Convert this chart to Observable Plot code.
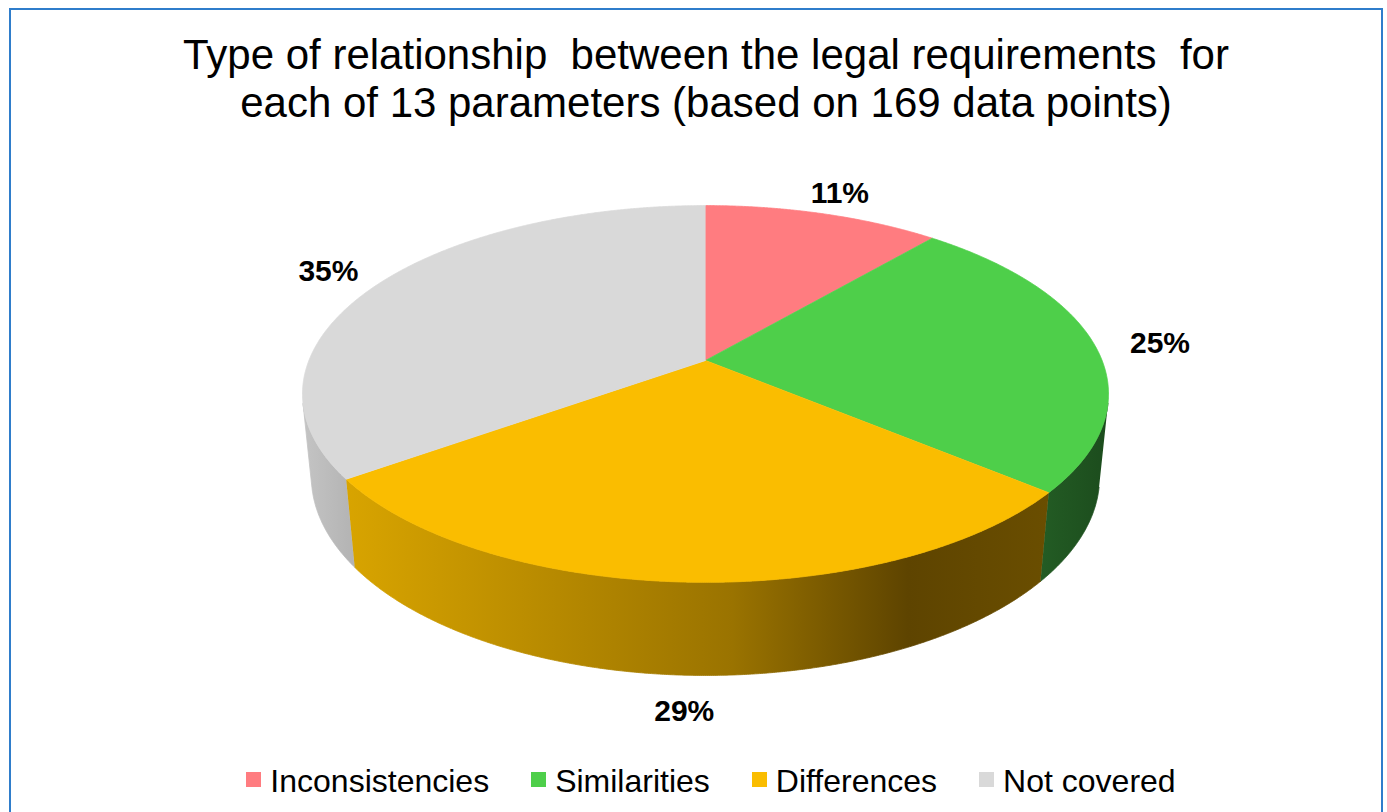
<!DOCTYPE html>
<html>
<head>
<meta charset="utf-8">
<script src="https://cdn.jsdelivr.net/npm/d3@7"></script>
<script src="https://cdn.jsdelivr.net/npm/@observablehq/plot@0.6"></script>
<style>
  html, body { margin: 0; padding: 0; background: #fff; overflow: hidden; }
  body { width: 1387px; height: 812px; position: relative; font-family: "Liberation Sans", Arial, sans-serif; }
  #frame { position: absolute; left: 9px; top: 8px; width: 1374px; height: 830px; border: 2px solid #2F7DCB; box-sizing: border-box; pointer-events: none; }
  #title { position: absolute; left: 0; top: 31px; width: 1412px; text-align: center; font-size: 42px; line-height: 48px; color: #000; white-space: pre; }
  #chart { position: absolute; left: 0; top: 150px; }
  #legend { position: absolute; left: 0; top: 750px; width: 1422px; display: flex; justify-content: center; align-items: center; padding-top: 11px; font-size: 32px; line-height: 40px; color: #000; }
  .item { display: flex; align-items: center; margin: 0 21px; }
  .sw { width: 15px; height: 15px; margin-right: 9px; position: relative; top: -2px; }
</style>
</head>
<body>
<div id="frame"></div>
<div id="title">Type of relationship  between the legal requirements  for
each of 13 parameters (based on 169 data points)</div>
<div id="chart"></div>
<div id="legend"></div>
<script>
// ---- data ----
const categories = ["Inconsistencies", "Similarities", "Differences", "Not covered"];
const counts = [19, 42, 49, 59];            // 169 data points in total
const topColors = ["#FF7C80", "#4ECF4A", "#FABD00", "#D9D9D9"];
const wallStops = [
  [["0%", "#C95B5E"], ["100%", "#A94245"]],
  [["0%", "#235C24"], ["100%", "#1C4C1D"]],
  [["0%", "#D8A400"], ["55%", "#9A7300"], ["80%", "#5E4400"], ["100%", "#6A4E00"]],
  [["0%", "#C4C4C4"], ["100%", "#B3B3B3"]]
];

// ---- 3D view settings ----
const W = 1387, H = 600;
const cxPix = 705, cyPix = 210, S = 396.6;   // pie centre and pixels per radius
const sinA = 0.46, cosA = Math.sqrt(1 - sinA * sinA); // tilt
const persp = 0.2;                            // radius / camera distance
const depth = 0.237;                          // wall height / radius

function project(theta, f, Y) {
  const X = f * Math.sin(theta), Z = f * Math.cos(theta);
  const dd = 1 + persp * (Z * cosA - Y * sinA);
  return {x: X / dd, y: (Y * cosA + Z * sinA) / dd};
}

const total = d3.sum(counts);
let acc = 0;
const slices = categories.map((name, i) => {
  const a0 = acc / total * 2 * Math.PI;
  acc += counts[i];
  const a1 = acc / total * 2 * Math.PI;
  return {name, i, a0, a1, pct: Math.round(counts[i] / total * 100) + "%"};
});

const step = Math.PI / 720;
function arc(a0, a1, f, Y) {
  const n = Math.max(2, Math.ceil((a1 - a0) / step));
  return d3.range(n + 1).map(k => project(a0 + (a1 - a0) * k / n, f, Y));
}

// top faces
const topPts = [];
for (const s of slices) {
  topPts.push({...project(0, 0, 0), name: s.name, fill: topColors[s.i]});
  for (const p of arc(s.a0, s.a1, 1, 0)) topPts.push({...p, name: s.name, fill: topColors[s.i]});
}

// visible outer wall
const tv = Math.acos(-persp / cosA);
const wallMarks = [];
for (const s of slices) {
  const b0 = Math.max(s.a0, tv), b1 = Math.min(s.a1, 2 * Math.PI - tv);
  if (b1 <= b0) continue;
  const pts = [...arc(b0, b1, 1, 0), ...arc(b0, b1, 1, -depth).reverse()];
  const url = `url(#wall${s.i})`;
  wallMarks.push(Plot.line(pts, {x: "x", y: "y", fill: url, stroke: url, strokeWidth: 0.8, curve: "linear"}));
}

// labels (outside the slice, at mid angle; front labels below the wall)
const labels = slices.map(s => {
  const m = (s.a0 + s.a1) / 2;
  const front = Math.cos(m) < 0;
  return {...project(m, 1.17, front ? -depth * 0.85 : 0), text: s.pct};
});

const plot = Plot.plot({
  width: W, height: H,
  margin: 0,
  x: {domain: [-cxPix / S, (W - cxPix) / S], axis: null},
  y: {domain: [-(H - cyPix) / S, cyPix / S], axis: null},
  color: {type: "identity"},
  style: {background: "transparent", overflow: "visible"},
  marks: [
    ...wallMarks,
    Plot.line(topPts, {x: "x", y: "y", z: "name", fill: "fill", stroke: "fill", strokeWidth: 0.8, curve: "linear"}),
    Plot.text(labels, {x: "x", y: "y", text: "text", fontSize: 30, fontWeight: "bold",
      fontFamily: "Liberation Sans, Arial, sans-serif", fill: "#000", textAnchor: "middle", lineAnchor: "middle"})
  ]
});

// gradient definitions for the walls
const defs = d3.select(plot).insert("defs", ":first-child");
wallStops.forEach((stops, i) => {
  const g = defs.append("linearGradient").attr("id", "wall" + i)
    .attr("x1", 0).attr("x2", 1).attr("y1", 0).attr("y2", 0);
  for (const [o, c] of stops) g.append("stop").attr("offset", o).attr("stop-color", c);
});
document.getElementById("chart").appendChild(plot);

// legend
const legend = d3.select("#legend");
categories.forEach((c, i) => {
  const it = legend.append("div").attr("class", "item");
  it.append("div").attr("class", "sw").style("background", topColors[i]);
  it.append("span").text(c);
});
</script>
</body>
</html>
